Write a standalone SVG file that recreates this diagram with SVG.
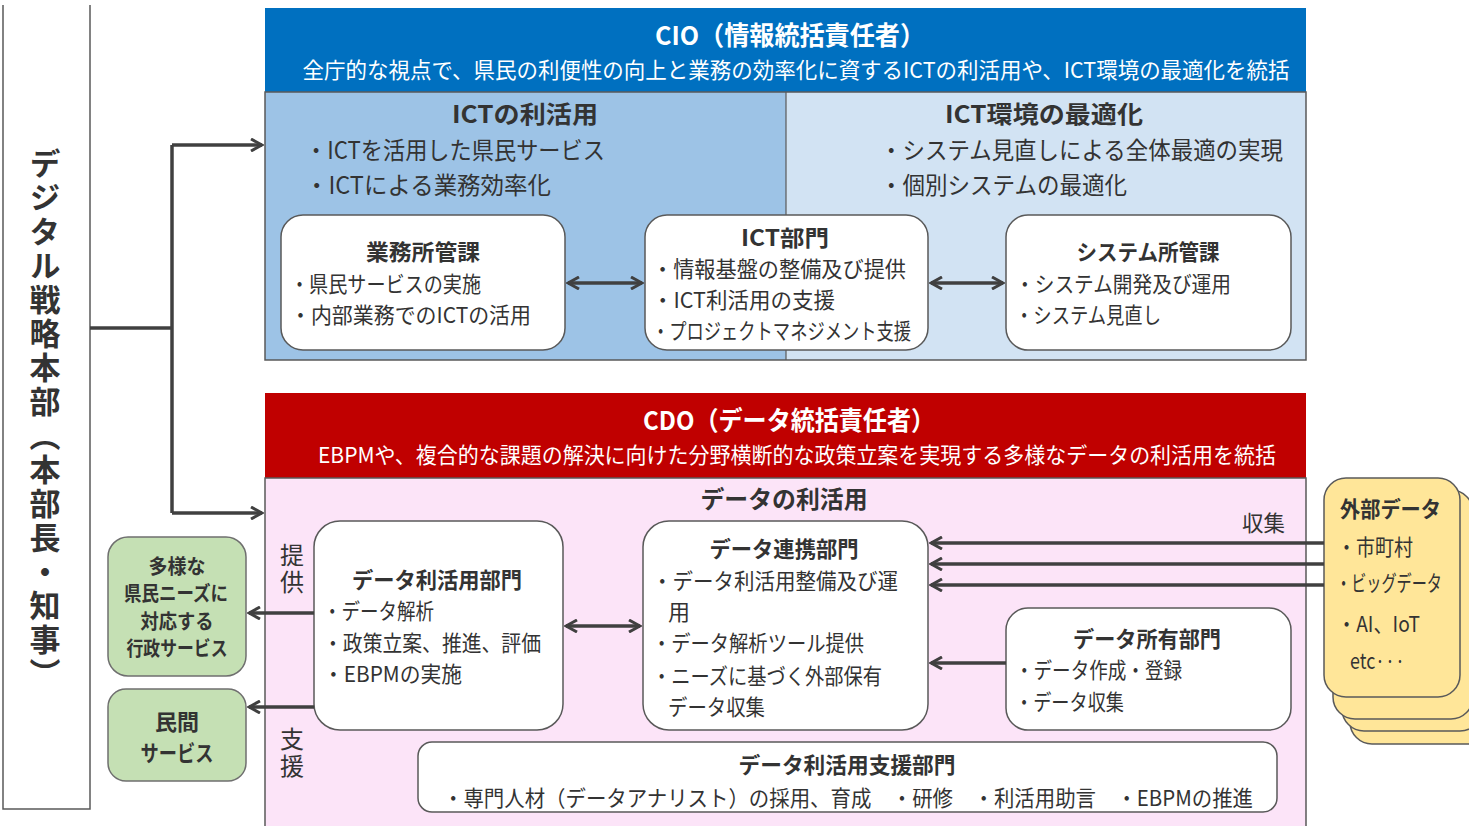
<svg xmlns="http://www.w3.org/2000/svg" width="1469" height="826" viewBox="0 0 1469 826">
<defs>
<style>
.t{font-family:"Noto Sans CJK JP","Noto Sans CJK SC",sans-serif;fill:#333;dominant-baseline:central}
.b{font-weight:700}
.w{fill:#fff}
.m{text-anchor:middle}
.s22{font-size:22px}
.s24{font-size:24px}
.s26{font-size:26px}
.box{fill:#fff;stroke:#595959;stroke-width:1.5}
.con{stroke:#404040;stroke-width:3.5;fill:none}
.card{fill:#FFE699;stroke:#5a5a5a;stroke-width:1.5}
.grn{fill:#C5E0B4;stroke:#6f6f6f;stroke-width:1.5}
</style>
<marker id="ah" viewBox="0 0 14 14" markerWidth="14" markerHeight="14" refX="12" refY="7" orient="auto-start-reverse" markerUnits="userSpaceOnUse">
<path d="M1,1 L12,7 L1,13" fill="none" stroke="#404040" stroke-width="3"/>
</marker>
</defs>
<rect width="1469" height="826" fill="#fff"/>

<g id="hq">
<path d="M3,5 V809 H90 V5" fill="none" stroke="#595959" stroke-width="1.5"/>
<text class="t b" x="45" y="148" style="writing-mode:vertical-rl;font-size:31px;letter-spacing:3px">デジタル戦略本部（本部長・知事）</text>
</g>

<g id="cio">
<rect x="265" y="8" width="1041" height="84" fill="#0070C0"/>
<text class="t b w m s26" x="790" y="33" textLength="270" lengthAdjust="spacingAndGlyphs">CIO（情報統括責任者）</text>
<text class="t w m s22" x="796" y="68" textLength="987" lengthAdjust="spacingAndGlyphs">全庁的な視点で、県民の利便性の向上と業務の効率化に資するICTの利活用や、ICT環境の最適化を統括</text>
<rect x="265" y="92" width="521" height="268" fill="#9DC3E6"/>
<rect x="786" y="92" width="520" height="268" fill="#D2E3F3"/>
<rect x="265" y="92" width="1041" height="268" fill="none" stroke="#595959" stroke-width="1.5"/>
<line x1="786" y1="92" x2="786" y2="360" stroke="#595959" stroke-width="1.2"/>
</g>

<g id="ict-use">
<text class="t b m s24" x="525" y="112" textLength="146" lengthAdjust="spacingAndGlyphs">ICTの利活用</text>
<text class="t s24" x="305" y="148" textLength="300" lengthAdjust="spacingAndGlyphs">・ICTを活用した県民サービス</text>
<text class="t s24" x="305" y="183" textLength="246" lengthAdjust="spacingAndGlyphs">・ICTによる業務効率化</text>
</g>

<g id="ict-env">
<text class="t b m s24" x="1044" y="112" textLength="198" lengthAdjust="spacingAndGlyphs">ICT環境の最適化</text>
<text class="t s24" x="880" y="148" textLength="403" lengthAdjust="spacingAndGlyphs">・システム見直しによる全体最適の実現</text>
<text class="t s24" x="880" y="183" textLength="247" lengthAdjust="spacingAndGlyphs">・個別システムの最適化</text>
</g>

<g id="gyomu">
<rect class="box" x="281" y="215" width="284" height="135" rx="22"/>
<text class="t b m s22" x="423" y="250" textLength="114" lengthAdjust="spacingAndGlyphs">業務所管課</text>
<text class="t s22" x="290" y="282" textLength="191" lengthAdjust="spacingAndGlyphs">・県民サービスの実施</text>
<text class="t s22" x="290" y="313" textLength="241" lengthAdjust="spacingAndGlyphs">・内部業務でのICTの活用</text>
</g>

<g id="ict-dept">
<rect class="box" x="645" y="215" width="283" height="135" rx="22"/>
<text class="t b m s22" x="785" y="236" textLength="88" lengthAdjust="spacingAndGlyphs">ICT部門</text>
<text class="t s22" x="652" y="267" textLength="254" lengthAdjust="spacingAndGlyphs">・情報基盤の整備及び提供</text>
<text class="t s22" x="652" y="298" textLength="183" lengthAdjust="spacingAndGlyphs">・ICT利活用の支援</text>
<text class="t s22" x="652" y="329" textLength="259" lengthAdjust="spacingAndGlyphs">・プロジェクトマネジメント支援</text>
</g>

<g id="system">
<rect class="box" x="1006" y="215" width="285" height="135" rx="22"/>
<text class="t b m s22" x="1148" y="250" textLength="143" lengthAdjust="spacingAndGlyphs">システム所管課</text>
<text class="t s22" x="1015" y="282" textLength="216" lengthAdjust="spacingAndGlyphs">・システム開発及び運用</text>
<text class="t s22" x="1015" y="313" textLength="146" lengthAdjust="spacingAndGlyphs">・システム見直し</text>
</g>

<g id="cdo">
<rect x="265" y="393" width="1041" height="85" fill="#C00000"/>
<text class="t b w m s26" x="789" y="418" textLength="292" lengthAdjust="spacingAndGlyphs">CDO（データ統括責任者）</text>
<text class="t w m s22" x="797" y="453" textLength="958" lengthAdjust="spacingAndGlyphs">EBPMや、複合的な課題の解決に向けた分野横断的な政策立案を実現する多様なデータの利活用を統括</text>
<rect x="265" y="478" width="1041" height="360" fill="#FCE4F8" stroke="#595959" stroke-width="1.5"/>
<text class="t b m s24" x="784" y="497" textLength="167" lengthAdjust="spacingAndGlyphs">データの利活用</text>
</g>

<g id="data-use">
<rect class="box" x="314" y="521" width="249" height="209" rx="26"/>
<text class="t b m s22" x="437" y="578" textLength="170" lengthAdjust="spacingAndGlyphs">データ利活用部門</text>
<text class="t s22" x="323" y="609" textLength="111" lengthAdjust="spacingAndGlyphs">・データ解析</text>
<text class="t s22" x="323" y="641" textLength="218" lengthAdjust="spacingAndGlyphs">・政策立案、推進、評価</text>
<text class="t s22" x="323" y="672" textLength="139" lengthAdjust="spacingAndGlyphs">・EBPMの実施</text>
</g>

<g id="data-link">
<rect class="box" x="643" y="521" width="285" height="209" rx="26"/>
<text class="t b m s22" x="784" y="547" textLength="149" lengthAdjust="spacingAndGlyphs">データ連携部門</text>
<text class="t s22" x="652" y="579" textLength="246" lengthAdjust="spacingAndGlyphs">・データ利活用整備及び運</text>
<text class="t s22" x="668" y="610">用</text>
<text class="t s22" x="652" y="641" textLength="212" lengthAdjust="spacingAndGlyphs">・データ解析ツール提供</text>
<text class="t s22" x="652" y="674" textLength="230" lengthAdjust="spacingAndGlyphs">・ニーズに基づく外部保有</text>
<text class="t s22" x="668" y="705" textLength="97" lengthAdjust="spacingAndGlyphs">データ収集</text>
</g>

<g id="data-own">
<rect class="box" x="1006" y="608" width="285" height="122" rx="22"/>
<text class="t b m s22" x="1147" y="637" textLength="148" lengthAdjust="spacingAndGlyphs">データ所有部門</text>
<text class="t s22" x="1015" y="668" textLength="167" lengthAdjust="spacingAndGlyphs">・データ作成・登録</text>
<text class="t s22" x="1015" y="700" textLength="109" lengthAdjust="spacingAndGlyphs">・データ収集</text>
</g>

<g id="data-support">
<rect class="box" x="418" y="742" width="859" height="70" rx="14"/>
<text class="t b m s22" x="847" y="763" textLength="217" lengthAdjust="spacingAndGlyphs">データ利活用支援部門</text>
<text class="t s22" x="443" y="796" textLength="810" lengthAdjust="spacingAndGlyphs">・専門人材（データアナリスト）の採用、育成　・研修　・利活用助言　・EBPMの推進</text>
</g>

<g id="external">
<rect class="card" x="1350" y="512" width="140" height="232" rx="22"/>
<rect class="card" x="1342" y="500" width="140" height="231" rx="22"/>
<rect class="card" x="1333" y="490" width="140" height="229" rx="22"/>
<rect class="card" x="1324" y="478" width="136" height="219" rx="22"/>
<text class="t b s22" x="1340" y="507" textLength="101" lengthAdjust="spacingAndGlyphs">外部データ</text>
<text class="t s22" x="1337" y="545" textLength="76" lengthAdjust="spacingAndGlyphs">・市町村</text>
<text class="t s22" x="1336" y="581" textLength="106" lengthAdjust="spacingAndGlyphs">・ビッグデータ</text>
<text class="t s22" x="1337" y="622" textLength="83" lengthAdjust="spacingAndGlyphs">・AI、IoT</text>
<text class="t s22" x="1350" y="659" textLength="55" lengthAdjust="spacingAndGlyphs">etc···</text>
</g>

<g id="gyosei">
<rect class="grn" x="108" y="537" width="138" height="139" rx="20"/>
<text class="t b m" x="177" y="565" style="font-size:20px" textLength="57" lengthAdjust="spacingAndGlyphs">多様な</text>
<text class="t b m" x="176" y="592" style="font-size:20px" textLength="104" lengthAdjust="spacingAndGlyphs">県民ニーズに</text>
<text class="t b m" x="177" y="620" style="font-size:20px" textLength="73" lengthAdjust="spacingAndGlyphs">対応する</text>
<text class="t b m" x="177" y="647" style="font-size:20px" textLength="101" lengthAdjust="spacingAndGlyphs">行政サービス</text>
</g>

<g id="minkan">
<rect class="grn" x="108" y="689" width="138" height="92" rx="18"/>
<text class="t b m" x="177" y="720" style="font-size:22px" textLength="44" lengthAdjust="spacingAndGlyphs">民間</text>
<text class="t b m" x="177" y="751" style="font-size:22px" textLength="73" lengthAdjust="spacingAndGlyphs">サービス</text>
</g>

<g id="connectors">
<path class="con" d="M90,328 H172"/>
<path class="con" d="M172,145 V513"/>
<path class="con" d="M172,145 H262" marker-end="url(#ah)"/>
<path class="con" d="M172,513 H262" marker-end="url(#ah)"/>
<path class="con" d="M568,283 H642" marker-start="url(#ah)" marker-end="url(#ah)"/>
<path class="con" d="M931,283 H1003" marker-start="url(#ah)" marker-end="url(#ah)"/>
<path class="con" d="M566,626 H640" marker-start="url(#ah)" marker-end="url(#ah)"/>
<path class="con" d="M1324,543 H931" marker-end="url(#ah)"/>
<path class="con" d="M1324,564 H931" marker-end="url(#ah)"/>
<path class="con" d="M1324,585 H931" marker-end="url(#ah)"/>
<path class="con" d="M1006,663 H931" marker-end="url(#ah)"/>
<path class="con" d="M314,613 H249" marker-end="url(#ah)"/>
<path class="con" d="M314,707 H249" marker-end="url(#ah)"/>
<text class="t s22" x="1242" y="521" textLength="43" lengthAdjust="spacingAndGlyphs">収集</text>
<text class="t" x="292" y="543" style="writing-mode:vertical-rl;font-size:24px;letter-spacing:3px">提供</text>
<text class="t" x="292" y="727" style="writing-mode:vertical-rl;font-size:24px;letter-spacing:3px">支援</text>
</g>
</svg>
